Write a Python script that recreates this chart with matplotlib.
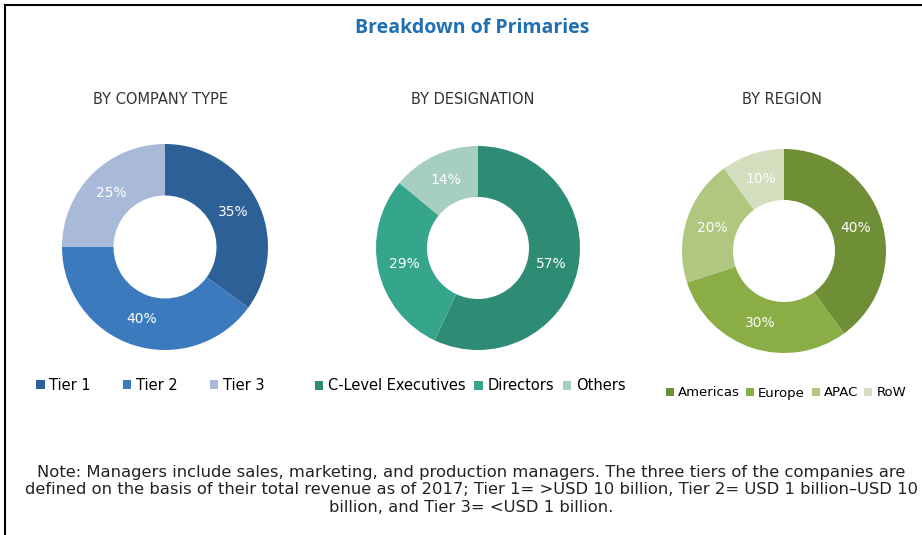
import numpy as np
import matplotlib.pyplot as plt
from matplotlib.lines import Line2D

# ----------------------------
# Data
# ----------------------------
company_labels = ["Tier 1", "Tier 2", "Tier 3"]
company_values = [35, 40, 25]
company_colors = ["#2d6096", "#3b7bbd", "#a9bad8"]

designation_labels = ["C-Level Executives", "Directors", "Others"]
designation_values = [57, 29, 14]
designation_colors = ["#2e8b74", "#35a68b", "#a6cfc0"]

region_labels = ["Americas", "Europe", "APAC", "RoW"]
region_values = [40, 30, 20, 10]
region_colors = ["#6f8f36", "#8aad46", "#afc77f", "#d3debf"]

title = "Breakdown of Primaries"
subtitles = ["BY COMPANY TYPE", "BY DESIGNATION", "BY REGION"]
note = ("Note: Managers include sales, marketing, and production managers. The three tiers of the companies are\n"
        "defined on the basis of their total revenue as of 2017; Tier 1= >USD 10 billion, Tier 2= USD 1 billion\u2013USD 10\n"
        "billion, and Tier 3= <USD 1 billion.")

NARROW = ["Liberation Sans Narrow", "DejaVu Sans"]
W, H = 922, 535


def px_axes(fig, cx, cy, r):
    """Axes box in pixel coords (origin top-left) around a donut."""
    return fig.add_axes([(cx - r) / W, (H - cy - r) / H, 2 * r / W, 2 * r / H])


def donut(ax, values, colors):
    """Draw a clockwise donut from 12 o'clock with white % labels."""
    wedges, _ = ax.pie(values, colors=colors, startangle=90, counterclock=False,
                       radius=1.0, wedgeprops=dict(width=0.5, edgecolor="none"))
    ax.set_xlim(-1, 1)
    ax.set_ylim(-1, 1)
    ax.set_aspect("equal")
    ax.axis("off")
    total = sum(values)
    start = 90.0
    for v in values:
        mid = np.deg2rad(start - v / total * 180)
        ax.text(0.74 * np.cos(mid), 0.74 * np.sin(mid), f"{v}%", color="white",
                ha="center", va="center", fontsize=10, family=NARROW)
        start -= v / total * 360
    return wedges


fig = plt.figure(figsize=(W / 100, H / 100), dpi=100)
fig.patch.set_facecolor("white")

# border lines (left and top), slightly inset like the source frame
fig.add_artist(Line2D([5 / W, 5 / W], [0, 1 - 5 / H], color="black", lw=1.5,
                      transform=fig.transFigure))
fig.add_artist(Line2D([5 / W, 1], [1 - 5 / H, 1 - 5 / H], color="black", lw=1.5,
                      transform=fig.transFigure))

fig.text(472 / W, 1 - 28 / H, title, ha="center", va="center", fontsize=14,
         fontweight="bold", color="#1f6fb2", family=["Open Sans", "DejaVu Sans"])

for x, s in zip([160, 473, 782], subtitles):
    fig.text(x / W, 1 - 100 / H, s, ha="center", va="center", fontsize=10.5,
             color="#333333", family=NARROW)

ax1 = px_axes(fig, 165, 247, 103)
w1 = donut(ax1, company_values, company_colors)
ax2 = px_axes(fig, 478, 248, 102)
w2 = donut(ax2, designation_values, designation_colors)
ax3 = px_axes(fig, 784, 251, 102)
w3 = donut(ax3, region_values, region_colors)

legend_kw = dict(frameon=False, handlelength=0.6, handleheight=0.6, handletextpad=0.3,
                 loc="center", bbox_transform=fig.transFigure)

fig.legend(w1, company_labels, ncol=3, columnspacing=2.2,
           prop={"family": NARROW, "size": 10.5},
           bbox_to_anchor=(150 / W, 1 - 385 / H), **legend_kw)
fig.legend(w2, designation_labels, ncol=3, columnspacing=0.6,
           prop={"family": NARROW, "size": 10.5},
           bbox_to_anchor=(470 / W, 1 - 386 / H), **legend_kw)
fig.legend(w3, region_labels, ncol=4, columnspacing=0.5,
           prop={"family": NARROW, "size": 9.5},
           bbox_to_anchor=(786 / W, 1 - 393 / H), **legend_kw)

fig.text(471 / W, 1 - 490 / H, note, ha="center", va="center", fontsize=11.8,
         color="#222222", family=NARROW, linespacing=1.2)

fig.savefig("out.png", dpi=100)
